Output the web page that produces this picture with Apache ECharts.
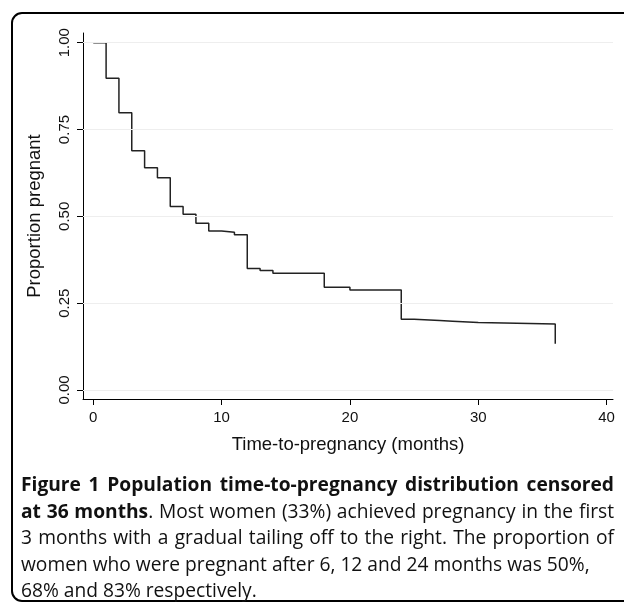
<!DOCTYPE html>
<html>
<head>
<meta charset="utf-8">
<script src="https://cdn.jsdelivr.net/npm/echarts@6/dist/echarts.min.js"></script>
<style>
  html, body { margin: 0; padding: 0; background: #fff; }
  #chart { width: 624px; height: 603px; }
</style>
</head>
<body>
<div id="chart"></div>
<script>
// ---- data ----
const times    = [0, 1, 2, 3, 4, 5, 6, 7, 8, 9, 10, 11, 12, 13, 14, 18, 20, 24, 25, 27, 28, 30, 36, 36];
const survival = [1.000, 0.898, 0.798, 0.689, 0.640, 0.611, 0.528, 0.506, 0.480, 0.458, 0.454, 0.447,
                  0.350, 0.344, 0.336, 0.296, 0.288, 0.204, 0.200, 0.198, 0.194, 0.190, 0.190, 0.133];
const xTicks = [0, 10, 20, 30, 40];
const yTicks = [0, 0.25, 0.5, 0.75, 1];
const xTitle = 'Time-to-pregnancy (months)';
const yTitle = 'Proportion pregnant';
const captionLines = [
  [{t: 'Figure 1 Population time-to-pregnancy distribution censored', b: true}],
  [{t: 'at 36 months', b: true}, {t: '. Most women (33%) achieved pregnancy in the first', b: false}],
  [{t: '3 months with a gradual tailing off to the right. The proportion of', b: false}],
  [{t: 'women who were pregnant after 6, 12 and 24 months was 50%,', b: false}],
  [{t: '68% and 83% respectively.', b: false}]
];
const captionJustify = [true, true, true, false, false];

// ---- caption layout (justified words) ----
const capFamily = '"Open Sans", sans-serif';
const capSize = 19.2;
const capLeft = 21, capRight = 614, capTop = 486, capPitch = 26.5;
const cv = document.createElement('canvas').getContext('2d');
function fontOf(b) { return (b ? 'bold ' : '') + capSize + 'px ' + capFamily; }
function measure(s, b) { cv.font = fontOf(b); return cv.measureText(s).width; }

const captionGraphics = [];
captionLines.forEach((segs, li) => {
  const tokens = [];
  segs.forEach((seg, si) => {
    const words = seg.t.split(' ');
    words.forEach((w, wi) => {
      if (w === '') return;
      const attach = (wi === 0 && si > 0 && !seg.t.startsWith(' '));
      tokens.push({w, b: seg.b, attach});
    });
  });
  const groups = [];
  tokens.forEach(tk => {
    if (tk.attach && groups.length) groups[groups.length - 1].push(tk);
    else groups.push([tk]);
  });
  const spaceW = measure(' ', false);
  const gw = groups.map(g => g.reduce((s, tk) => s + measure(tk.w, tk.b), 0));
  const total = gw.reduce((a, c) => a + c, 0);
  let gap = spaceW;
  if (captionJustify[li] && groups.length > 1) gap = (capRight - capLeft - total) / (groups.length - 1);
  let x = capLeft;
  const y = capTop + li * capPitch;
  groups.forEach((g, gi) => {
    let xx = x;
    g.forEach(tk => {
      captionGraphics.push({
        type: 'text', silent: true,
        style: { text: tk.w, x: xx, y: y, fill: '#111', font: fontOf(tk.b), verticalAlign: 'middle', align: 'left' }
      });
      xx += measure(tk.w, tk.b);
    });
    x += gw[gi] + gap;
  });
});

// ---- chart ----
const chart = echarts.init(document.getElementById('chart'), null, {renderer: 'canvas'});
const axisFont = 'Liberation Sans';
chart.setOption({
  animation: false,
  backgroundColor: '#fff',
  grid: { left: 83, right: 11, top: 33, bottom: 204, containLabel: false },
  xAxis: {
    type: 'value', min: -0.8, max: 40.5,
    axisLine: { show: true, onZero: false, lineStyle: { color: '#000', width: 1 } },
    axisTick: { show: true, customValues: xTicks, length: 6, lineStyle: { color: '#000' } },
    axisLabel: { customValues: xTicks, margin: 11, fontSize: 15, fontFamily: axisFont, color: '#111' },
    splitLine: { show: false },
    name: xTitle, nameLocation: 'middle', nameGap: 36,
    nameTextStyle: { fontSize: 18.5, fontFamily: axisFont, color: '#111' }
  },
  yAxis: {
    type: 'value', min: -0.026, max: 1.028,
    axisLine: { show: true, onZero: false, lineStyle: { color: '#000', width: 1 } },
    axisTick: { show: true, customValues: yTicks, length: 6, lineStyle: { color: '#000' } },
    axisLabel: { customValues: yTicks, margin: 11, rotate: 90, fontSize: 15, fontFamily: axisFont, color: '#111',
                 formatter: v => Number(v).toFixed(2) },
    splitLine: { show: false },
    name: yTitle, nameLocation: 'middle', nameGap: 39, nameRotate: 90,
    nameTextStyle: { fontSize: 18.5, fontFamily: axisFont, color: '#111' }
  },
  series: [{
    type: 'line', step: 'end', showSymbol: false, symbol: 'none',
    data: times.map((t, i) => [t, survival[i]]),
    lineStyle: { color: '#222', width: 1.5 },
    markLine: {
      silent: true, symbol: ['none', 'none'], label: { show: false },
      lineStyle: { color: '#eeeeee', width: 1, type: 'solid' },
      data: yTicks.map(v => ({ yAxis: v }))
    },
    z: 3
  }],
  graphic: [
    { type: 'rect', silent: true, shape: { x: 12, y: 13, width: 660, height: 588, r: 10 },
      style: { fill: 'none', stroke: '#000', lineWidth: 2 } }
  ].concat(captionGraphics)
});
</script>
</body>
</html>
